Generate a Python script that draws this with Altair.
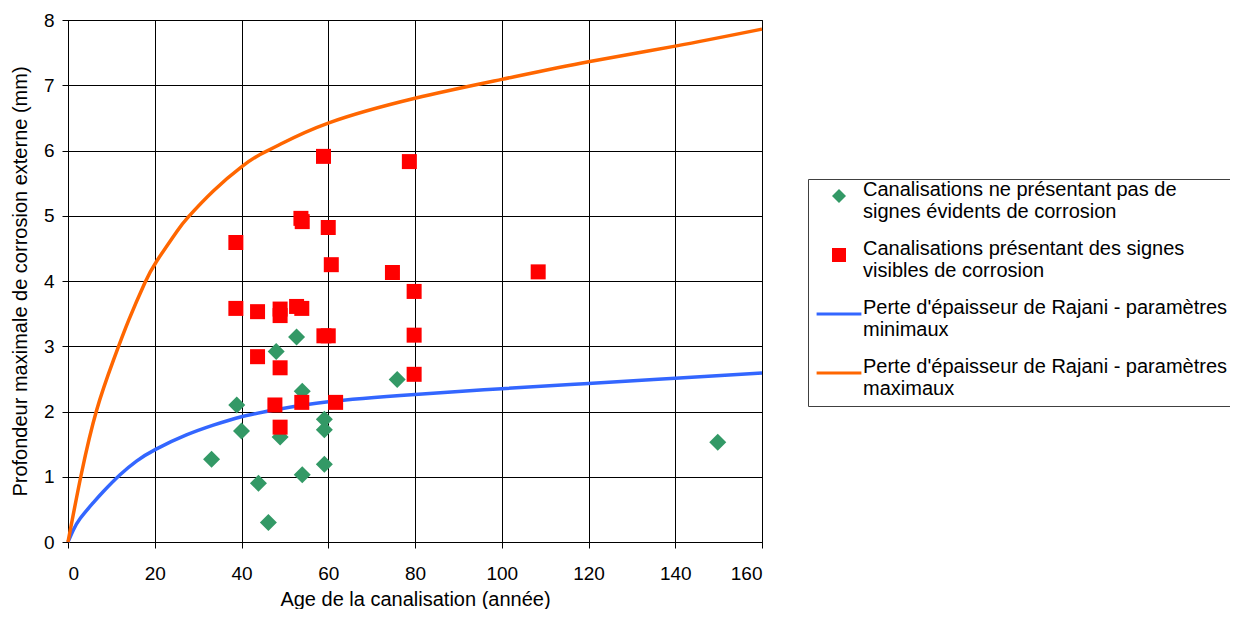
import altair as alt
import pandas as pd

# ---- data ----
SERIES = [
    "Canalisations ne présentant pas de|signes évidents de corrosion",
    "Canalisations présentant des signes|visibles de corrosion",
    "Perte d'épaisseur de Rajani - paramètres|minimaux",
    "Perte d'épaisseur de Rajani - paramètres|maximaux",
]

green_age = [52.7, 48.0, 75.9, 54.0, 38.9, 59.1, 59.1, 40.0, 48.9, 33.1, 59.1, 54.0, 43.9, 46.2, 149.8]
green_depth = [3.14, 2.92, 2.49, 2.31, 2.10, 1.88, 1.72, 1.70, 1.61, 1.27, 1.19, 1.03, 0.90, 0.30, 1.53]

red_age = [58.9, 78.7, 53.7, 54.0, 60.0, 38.7, 60.7, 74.8, 108.4, 79.8, 38.7, 43.7, 48.9, 48.9,
           52.7, 53.9, 59.0, 60.0, 79.8, 43.7, 48.9, 79.8, 47.7, 53.9, 61.7, 48.9]
red_depth = [5.91, 5.83, 4.96, 4.91, 4.82, 4.59, 4.25, 4.13, 4.14, 3.84, 3.58, 3.53, 3.57, 3.47,
             3.61, 3.58, 3.16, 3.16, 3.17, 2.84, 2.67, 2.57, 2.10, 2.14, 2.14, 1.76]

blue_age = [0, 1.2, 2.8, 5.8, 8.1, 12.0, 15.8, 20.2, 27.3, 33.5, 40.0, 48.1, 60.0, 80.0, 100.0, 120.0, 140.0, 160.0]
blue_depth = [0, 0.18, 0.36, 0.60, 0.77, 1.03, 1.24, 1.42, 1.64, 1.79, 1.92, 2.03, 2.15, 2.26, 2.35, 2.43, 2.51, 2.59]

orange_age = [0, 3.1, 6.6, 10.5, 14.0, 17.7, 20.4, 25.1, 27.7, 33.5, 40.0, 44.3, 48.5, 60.0, 80.0, 100.0, 120.0, 140.0, 160.0]
orange_depth = [0, 1.05, 2.02, 2.79, 3.40, 3.97, 4.30, 4.76, 4.98, 5.38, 5.75, 5.94, 6.08, 6.42, 6.80, 7.09, 7.36, 7.60, 7.86]

x_ticks = [0, 20, 40, 60, 80, 100, 120, 140, 160]
y_ticks = [0, 1, 2, 3, 4, 5, 6, 7, 8]

GREEN, RED, BLUE, ORANGE = "#339966", "#FF0000", "#3366FF", "#FF6600"
FONT = "Liberation Sans"
LINE_SYMBOL = "M-3.2,0L3.2,0"

points = pd.DataFrame(
    {"series": [SERIES[0]] * len(green_age) + [SERIES[1]] * len(red_age),
     "age": green_age + red_age,
     "depth": green_depth + red_depth,
     "order": [0] * len(green_age) + [1] * len(red_age)}
)
lines = pd.DataFrame(
    {"series": [SERIES[2]] * len(blue_age) + [SERIES[3]] * len(orange_age),
     "age": blue_age + orange_age,
     "depth": blue_depth + orange_depth}
)

leg = alt.Legend(
    title=None, orient="none", legendX=740, legendY=159,
    labelExpr="split(datum.label, '|')",
    labelFont=FONT, labelFontSize=20, labelColor="#000000", labelLimit=500,
    labelOffset=14, labelBaseline="alphabetic",
    padding=7, rowPadding=17, strokeColor="#404040", fillColor="#FFFFFF",
    cornerRadius=0, symbolStrokeWidth=3, symbolOpacity=1,
    symbolSize=196, symbolOffset=14,
)

xs = alt.Scale(domain=[0, 160], nice=False, zero=False)
ys = alt.Scale(domain=[0, 8], nice=False)
x_axis = alt.Axis(values=x_ticks, title="Age de la canalisation (année)", labelPadding=16,
                  titleX=347, titleY=67, titleBaseline="bottom", titleAnchor="middle")
y_axis = alt.Axis(values=y_ticks, title="Profondeur maximale de corrosion externe (mm)", labelPadding=8,
                  titleX=-48, titleY=261, titleBaseline="middle", titleAnchor="middle")

fill_scale = alt.Scale(domain=SERIES, range=[GREEN, RED, "transparent", "transparent"])
stroke_scale = alt.Scale(domain=SERIES, range=["transparent", "transparent", BLUE, ORANGE])
shape_scale = alt.Scale(domain=SERIES, range=["diamond", "square", LINE_SYMBOL, LINE_SYMBOL])

line_layer = alt.Chart(lines).mark_line(strokeWidth=3.5, interpolate="natural").encode(
    x=alt.X("age:Q", scale=xs, axis=x_axis),
    y=alt.Y("depth:Q", scale=ys, axis=y_axis),
    stroke=alt.Stroke("series:N", scale=stroke_scale, legend=leg),
    detail="series:N",
)
point_layer = alt.Chart(points).mark_point(filled=True, opacity=1).encode(
    x=alt.X("age:Q", scale=xs, axis=x_axis),
    y=alt.Y("depth:Q", scale=ys, axis=y_axis),
    fill=alt.Fill("series:N", scale=fill_scale, legend=leg),
    stroke=alt.Stroke("series:N", scale=stroke_scale, legend=leg),
    shape=alt.Shape("series:N", scale=shape_scale, legend=leg),
    size=alt.Size("series:N", scale=alt.Scale(domain=SERIES[:2], range=[289, 225]), legend=None),
    order="order:Q",
)

chart = alt.layer(line_layer, point_layer).properties(
    width=694, height=522,
    autosize=alt.AutoSizeParams(type="none"),
    padding={"left": 60, "top": 12, "right": 468, "bottom": 67},
    background="#FFFFFF",
).configure_view(stroke="#000000", strokeWidth=1).configure_axis(
    grid=True, gridColor="#000000", gridOpacity=1, gridWidth=1,
    domainColor="#000000", domainWidth=1,
    tickColor="#000000", tickSize=6, tickWidth=1,
    labelFont=FONT, labelFontSize=19, labelColor="#000000",
    titleFont=FONT, titleFontSize=20, titleFontWeight="normal", titleColor="#000000",
)

chart.save("out.html", embed_options={"renderer": "svg", "actions": False})
